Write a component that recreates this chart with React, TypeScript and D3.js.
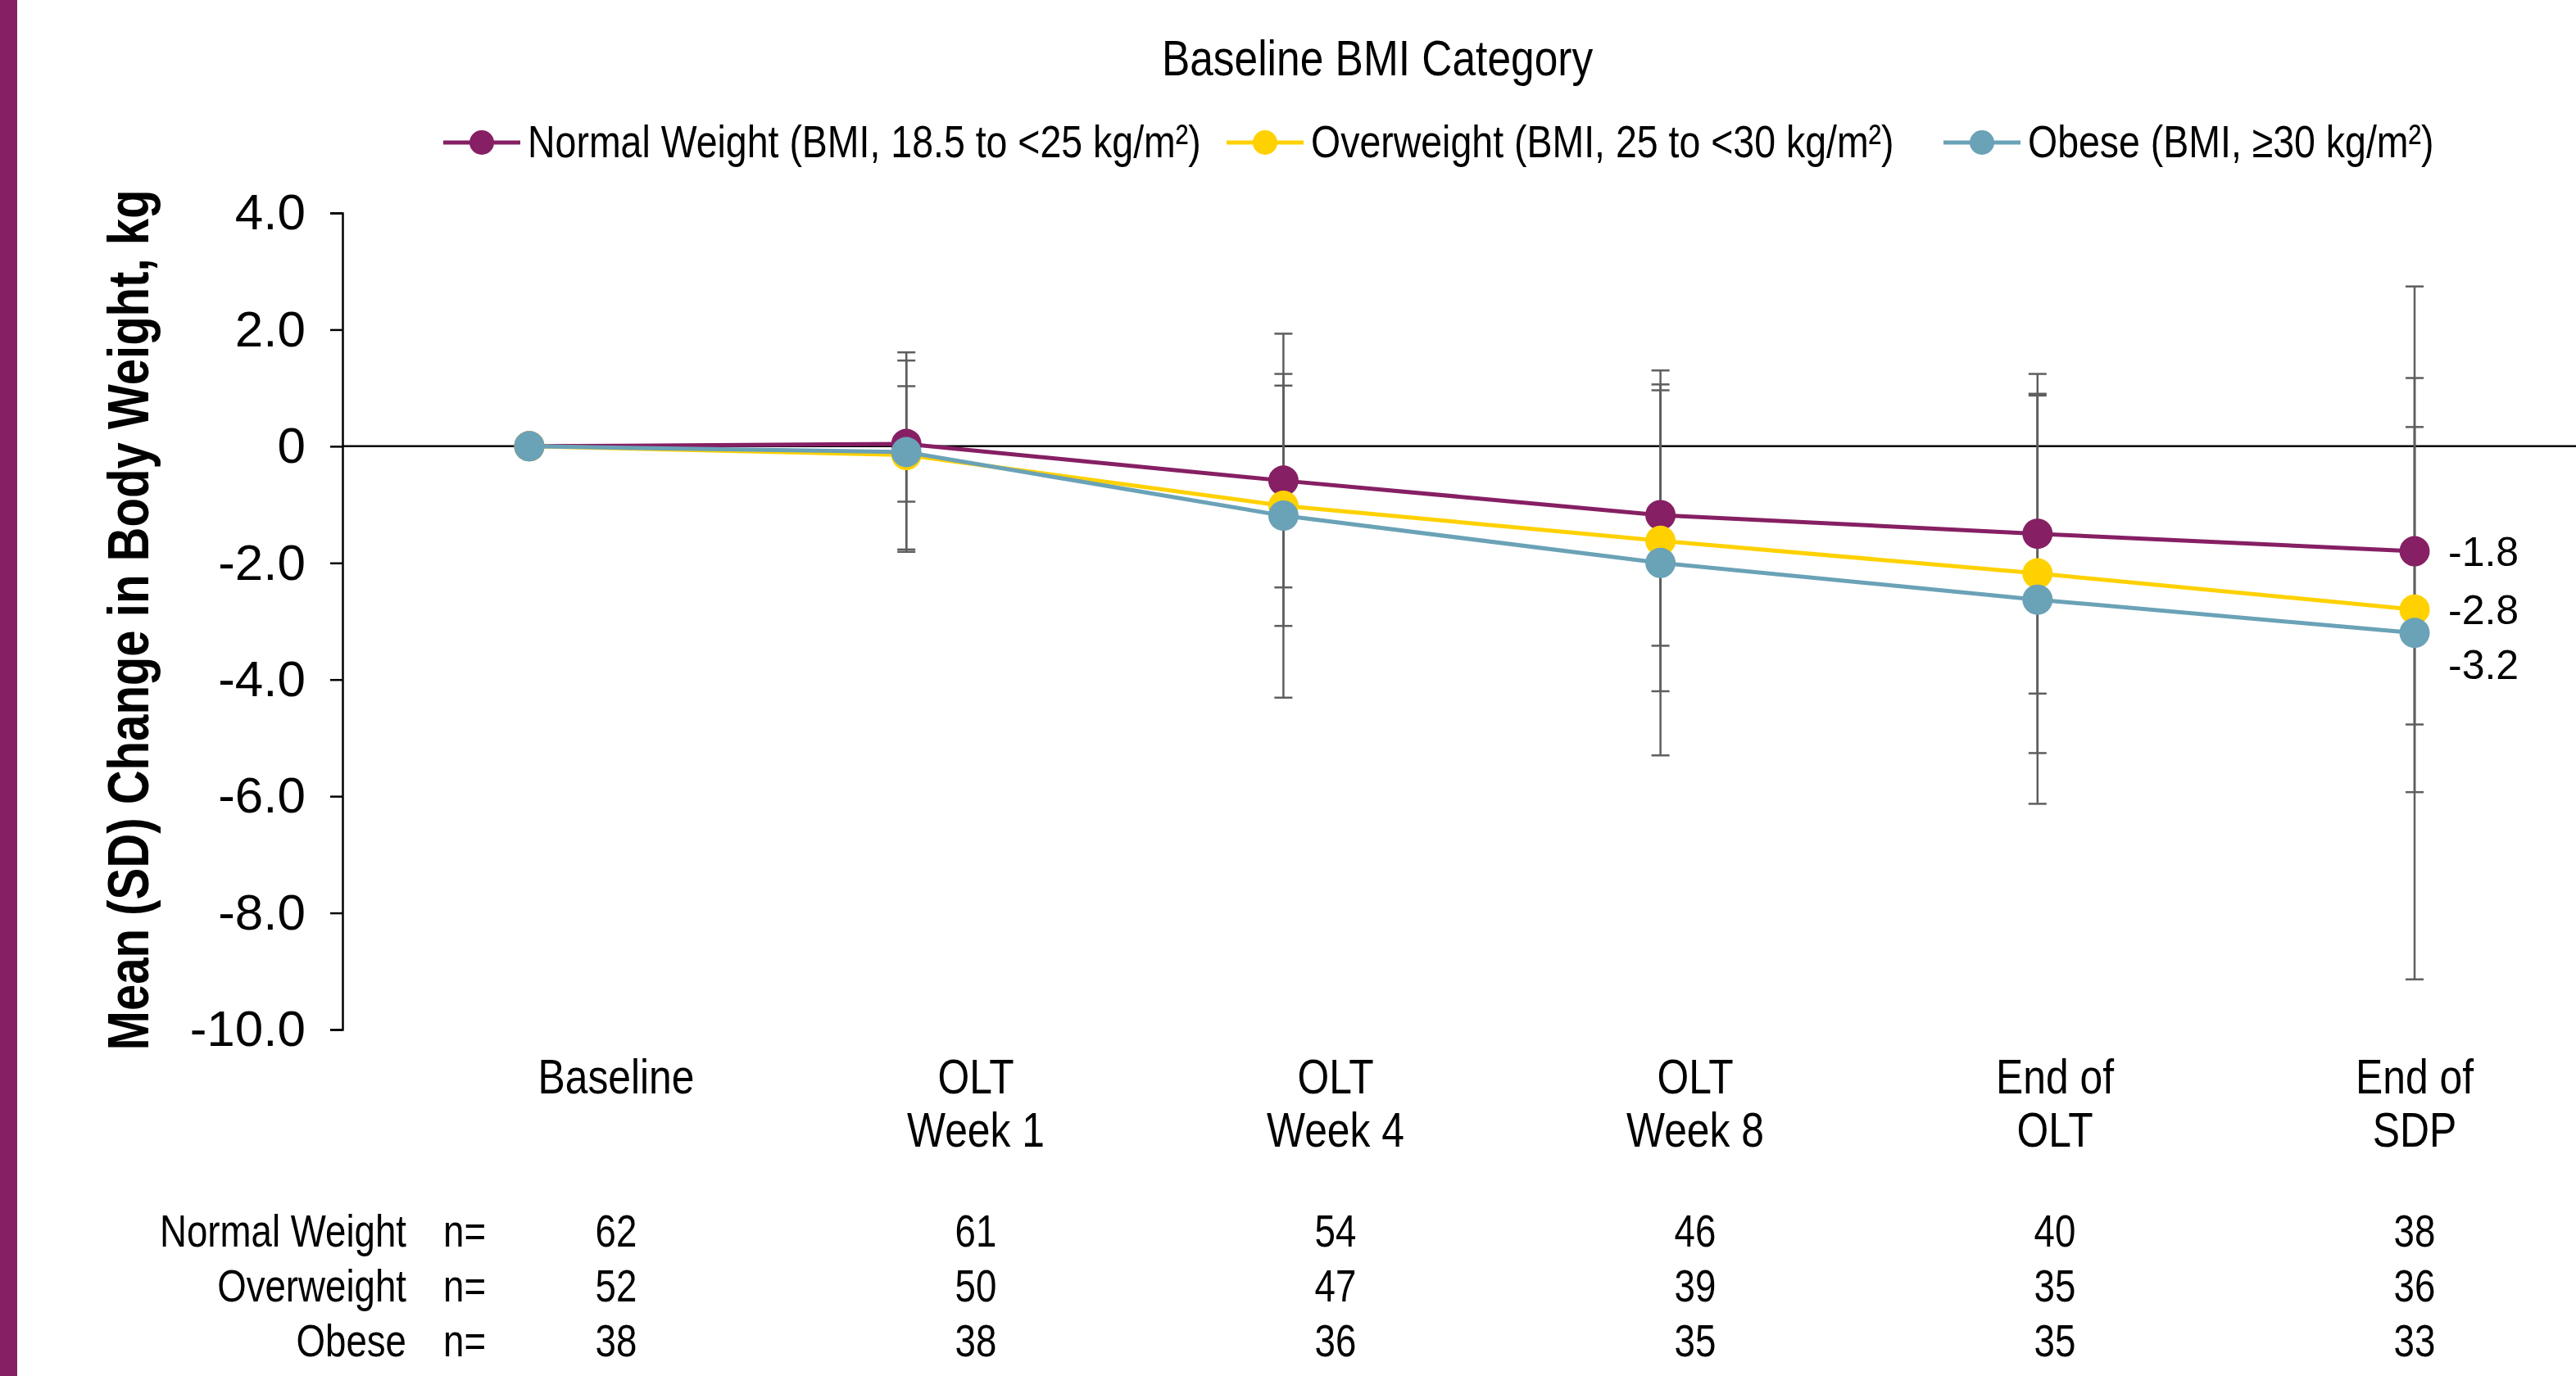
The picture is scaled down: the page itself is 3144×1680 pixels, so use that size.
import React, { useEffect, useRef } from 'react';
import * as d3 from 'd3';

// visit labels (two-line where the original wraps)
const categories = [['Baseline'], ['OLT', 'Week 1'], ['OLT', 'Week 4'], ['OLT', 'Week 8'], ['End of', 'OLT'], ['End of', 'SDP']];

// mean (SD) change in body weight, kg
const normalMean = [0, 0.04, -0.59, -1.18, -1.5, -1.8];
const normalSd = [0, 0.99, 1.83, 2.24, 2.74, 2.97];
const overMean = [0, -0.15, -1.02, -1.62, -2.18, -2.8];
const overSd = [0, 1.62, 2.06, 2.58, 3.08, 3.13];
const obeseMean = [0, -0.1, -1.19, -2.0, -2.63, -3.2];
const obeseSd = [0, 1.71, 3.12, 3.3, 3.5, 5.94];

// n per visit
const normalN = [62, 61, 54, 46, 40, 38];
const overN = [52, 50, 47, 39, 35, 36];
const obeseN = [38, 38, 36, 35, 35, 33];

const yTicks = [4, 2, 0, -2, -4, -6, -8, -10];
const yTickLabels = ['4.0', '2.0', '0', '-2.0', '-4.0', '-6.0', '-8.0', '-10.0'];

const legendNames = [
  'Normal Weight (BMI, 18.5 to <25 kg/m²)',
  'Overweight (BMI, 25 to <30 kg/m²)',
  'Obese (BMI, ≥30 kg/m²)',
];
const rowNames = ['Normal Weight', 'Overweight', 'Obese'];
const colors = ['#861F63', '#FFD100', '#6AA2B7'];

const W = 3144;
const H = 1680;
const FONT = '"Liberation Sans", Arial, sans-serif';
const SQ = 0.83; // horizontal squeeze to mimic the condensed face

const series = [
  { mean: normalMean, sd: normalSd, n: normalN },
  { mean: overMean, sd: overSd, n: overN },
  { mean: obeseMean, sd: obeseSd, n: obeseN },
];

const CText = ({ x, y, size, anchor = 'middle', weight = 'normal', rotate = 0, children }: any) => (
  <g transform={`translate(${x},${y}) rotate(${rotate}) scale(${SQ},1)`}>
    <text textAnchor={anchor} fontSize={size} fontWeight={weight} fontFamily={FONT} fill="#000">
      {children}
    </text>
  </g>
);

const App = () => {
  const axisRef = useRef<SVGGElement>(null);

  const idx = categories.map((_, i) => i);
  const x = d3.scalePoint<number>().domain(idx).range([646, 2947]);
  const xCol = d3.scalePoint<number>().domain(idx).range([752, 2947]);
  const y = d3.scaleLinear().domain([-10, 4]).range([1257, 260]);

  const line = d3.line<number>()
    .x((_, i) => x(i)!)
    .y(d => y(d));

  useEffect(() => {
    const g = d3.select(axisRef.current);
    g.selectAll('*').remove();
    g.call(
      d3.axisLeft(y)
        .tickValues(yTicks)
        .tickSize(15)
        .tickPadding(30)
        .tickFormat((d, i) => yTickLabels[i])
    );
    g.select('.domain').attr('stroke', '#000').attr('stroke-width', 2.5);
    g.selectAll('.tick line').attr('stroke', '#000').attr('stroke-width', 2.5);
    g.selectAll('.tick text')
      .attr('font-size', 62)
      .attr('font-family', FONT)
      .attr('fill', '#000');
  }, []);

  const labelOffsets = [0, 0, 38];

  return (
    <svg width={W} height={H} style={{ position: 'absolute', left: 0, top: 0, display: 'block', background: '#fff' }}>
      <rect x={0} y={0} width={21} height={H} fill="#861F63" />

      {/* title + legend */}
      <CText x={1681} y={92} size={62}>Baseline BMI Category</CText>
      {legendNames.map((name, i) => {
        const x0 = [541, 1497, 2372][i];
        return (
          <g key={name}>
            <line x1={x0} x2={x0 + 94} y1={174} y2={174} stroke={colors[i]} strokeWidth={5} />
            <circle cx={x0 + 47} cy={174} r={15} fill={colors[i]} />
            <CText x={x0 + 103} y={192} size={56} anchor="start">{name}</CText>
          </g>
        );
      })}

      {/* y axis title */}
      <CText x={181} y={757} size={70} weight="bold" rotate={-90}>
        Mean (SD) Change in Body Weight, kg
      </CText>

      <g ref={axisRef} transform="translate(418,0)" />
      <line x1={418} x2={W} y1={y(0)} y2={y(0)} stroke="#000" strokeWidth={2.5} />

      {/* error bars */}
      {series.map((s, si) =>
        s.mean.map((m, i) =>
          s.sd[i] > 0 ? (
            <g key={`e${si}-${i}`} stroke="#5E5E5E" strokeWidth={2.5}>
              <line x1={x(i)} x2={x(i)} y1={y(m + s.sd[i])} y2={y(m - s.sd[i])} />
              <line x1={x(i)! - 11} x2={x(i)! + 11} y1={y(m + s.sd[i])} y2={y(m + s.sd[i])} />
              <line x1={x(i)! - 11} x2={x(i)! + 11} y1={y(m - s.sd[i])} y2={y(m - s.sd[i])} />
            </g>
          ) : null
        )
      )}

      {/* lines + markers */}
      {series.map((s, si) => (
        <g key={`s${si}`}>
          <path d={line(s.mean) || ''} fill="none" stroke={colors[si]} strokeWidth={5} />
          {s.mean.map((m, i) => (
            <circle key={i} cx={x(i)} cy={y(m)} r={18.5} fill={colors[si]} />
          ))}
        </g>
      ))}

      {/* end labels */}
      {series.map((s, si) => {
        const last = s.mean.length - 1;
        return (
          <text
            key={`l${si}`}
            x={x(last)! + 41}
            y={y(s.mean[last]) + labelOffsets[si]}
            dy="0.36em"
            fontSize={50}
            fontFamily={FONT}
            fill="#000"
          >
            {s.mean[last].toFixed(1)}
          </text>
        );
      })}

      {/* category labels */}
      {categories.map((lines, i) =>
        lines.map((t, li) => (
          <CText key={`c${i}-${li}`} x={xCol(i)} y={1335 + li * 65} size={60}>{t}</CText>
        ))
      )}

      {/* n table */}
      {series.map((s, si) => (
        <g key={`t${si}`}>
          <CText x={496} y={1522 + si * 67} size={55} anchor="end">{rowNames[si]}</CText>
          <CText x={541} y={1522 + si * 67} size={55} anchor="start">n=</CText>
          {s.n.map((v, i) => (
            <CText key={i} x={xCol(i)} y={1522 + si * 67} size={55}>{v}</CText>
          ))}
        </g>
      ))}
    </svg>
  );
};

export default App;
